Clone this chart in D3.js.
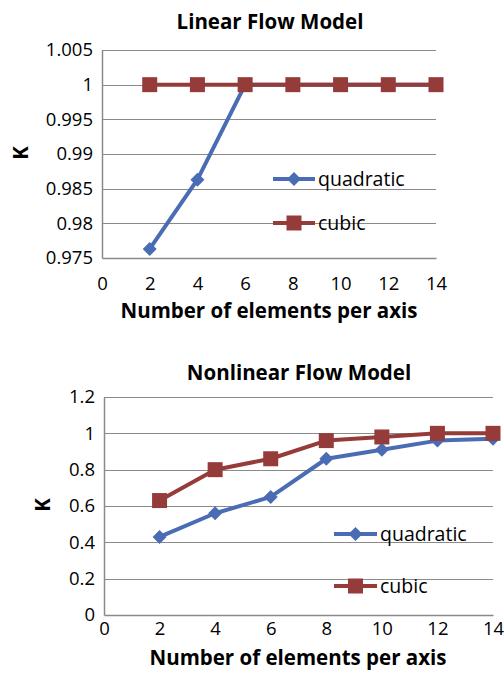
<!DOCTYPE html>
<html>
<head>
<meta charset="utf-8">
<script src="https://cdn.jsdelivr.net/npm/d3@7"></script>
<style>
  body { margin: 0; background: #fff; }
  svg { display: block; font-family: "Open Sans", sans-serif; }
</style>
</head>
<body>
<div id="chart"></div>
<script>
  // values
  var nElements = [2, 4, 6, 8, 10, 12, 14];
  var xTicks = [0, 2, 4, 6, 8, 10, 12, 14];

  var linearQuadratic = [0.9763, 0.9863, 1, 1, 1, 1, 1];
  var linearCubic = [1, 1, 1, 1, 1, 1, 1];
  var linearYTicks = [0.975, 0.98, 0.985, 0.99, 0.995, 1, 1.005];

  var nonlinearQuadratic = [0.43, 0.56, 0.65, 0.86, 0.91, 0.96, 0.97];
  var nonlinearCubic = [0.63, 0.80, 0.86, 0.96, 0.98, 1.0, 1.0];
  var nonlinearYTicks = [0, 0.2, 0.4, 0.6, 0.8, 1, 1.2];

  var seriesNames = ["quadratic", "cubic"];
  var colors = ["#4a6cb4", "#953b39"];

  var width = 504, height = 673;
  var fontFam = "'Open Sans', sans-serif";

  var svg = d3.select("#chart")
              .append("svg")
              .attr("width", width)
              .attr("height", height);

  function drawChart(opt) {
    var g = svg.append("g");

    var x = d3.scaleLinear().domain([0, 14]).range([opt.left, opt.right]);
    var y = d3.scaleLinear().domain(opt.yDomain).range([opt.bottom, opt.top]);

    // title
    g.append("text")
     .attr("x", opt.titleX)
     .attr("y", opt.titleY)
     .attr("text-anchor", "middle")
     .attr("font-weight", "bold")
     .attr("font-size", 20.5)
     .text(opt.title);

    // gridlines
    g.selectAll(".grid")
     .data(opt.yTicks.slice(1))
     .enter()
     .append("line")
     .attr("x1", opt.left)
     .attr("x2", opt.right)
     .attr("y1", function(d) { return Math.round(y(d)) + 0.5; })
     .attr("y2", function(d) { return Math.round(y(d)) + 0.5; })
     .attr("stroke", "#8a8a8a")
     .attr("stroke-width", 1.2);

    // axes
    var yAxis = d3.axisLeft(y)
                  .tickValues(opt.yTicks)
                  .tickSize(0)
                  .tickPadding(9)
                  .tickFormat(function(d) { return d3.format("~g")(d); });
    var xAxis = d3.axisBottom(x)
                  .tickValues(xTicks)
                  .tickSize(0)
                  .tickPadding(opt.xPad)
                  .tickFormat(d3.format("d"));

    var ya = g.append("g")
              .attr("transform", "translate(" + opt.left + ",0)")
              .call(yAxis);
    var xa = g.append("g")
              .attr("transform", "translate(0," + opt.bottom + ")")
              .call(xAxis);

    [ya, xa].forEach(function(a) {
      a.attr("font-family", fontFam).attr("font-size", 18.5);
      a.select(".domain").attr("stroke", "#8a8a8a").attr("stroke-width", 1.5);
      a.selectAll("text").attr("fill", "#000");
    });

    // axis titles
    g.append("text")
     .attr("x", opt.xTitleX)
     .attr("y", opt.xTitleY)
     .attr("text-anchor", "middle")
     .attr("font-weight", "bold")
     .attr("font-size", 20.5)
     .text("Number of elements per axis");

    g.append("text")
     .attr("transform", "translate(" + opt.kX + "," + opt.kY + ") rotate(-90)")
     .attr("text-anchor", "middle")
     .attr("font-weight", "bold")
     .attr("font-size", 20.5)
     .text("K");

    var line = d3.line()
                 .x(function(d) { return x(d[0]); })
                 .y(function(d) { return y(d[1]); });

    var series = [opt.quadratic, opt.cubic];

    series.forEach(function(values, i) {
      var pts = nElements.map(function(n, j) { return [n, values[j]]; });
      g.append("path")
       .datum(pts)
       .attr("d", line)
       .attr("fill", "none")
       .attr("stroke", colors[i])
       .attr("stroke-width", 4)
       .attr("stroke-linejoin", "round");

      g.selectAll(".m" + i)
       .data(pts)
       .enter()
       .append("path")
       .attr("class", "m" + i)
       .attr("transform", function(d) { return "translate(" + x(d[0]) + "," + y(d[1]) + ")"; })
       .attr("d", marker(i))
       .attr("fill", colors[i]);
    });

    // legend
    seriesNames.forEach(function(name, i) {
      var ly = opt.legendY[i];
      g.append("line")
       .attr("x1", opt.legendX)
       .attr("x2", opt.legendX + opt.legendLen)
       .attr("y1", ly)
       .attr("y2", ly)
       .attr("stroke", colors[i])
       .attr("stroke-width", 4);
      g.append("path")
       .attr("transform", "translate(" + (opt.legendX + opt.legendLen / 2) + "," + ly + ")")
       .attr("d", marker(i))
       .attr("fill", colors[i]);
      g.append("text")
       .attr("x", opt.legendX + opt.legendLen + 3)
       .attr("y", ly)
       .attr("dy", "0.35em")
       .attr("font-size", 19.5)
       .text(name);
    });
  }

  function marker(i) {
    if (i == 0) return "M0,-7L7,0L0,7L-7,0Z";
    return "M-7.5,-7.5H7.5V7.5H-7.5Z";
  }

  drawChart({
    title: "Linear Flow Model", titleX: 270, titleY: 29,
    left: 102, right: 436, top: 50, bottom: 258, xPad: 19,
    yDomain: [0.975, 1.005], yTicks: linearYTicks,
    quadratic: linearQuadratic, cubic: linearCubic,
    xTitleX: 269, xTitleY: 318, kX: 28, kY: 153,
    legendX: 273, legendLen: 42, legendY: [179, 223]
  });

  drawChart({
    title: "Nonlinear Flow Model", titleX: 299, titleY: 380,
    left: 104, right: 493, top: 397, bottom: 615, xPad: 7,
    yDomain: [0, 1.2], yTicks: nonlinearYTicks,
    quadratic: nonlinearQuadratic, cubic: nonlinearCubic,
    xTitleX: 298, xTitleY: 665, kX: 50, kY: 505,
    legendX: 334, legendLen: 43, legendY: [534, 586]
  });
</script>
</body>
</html>
